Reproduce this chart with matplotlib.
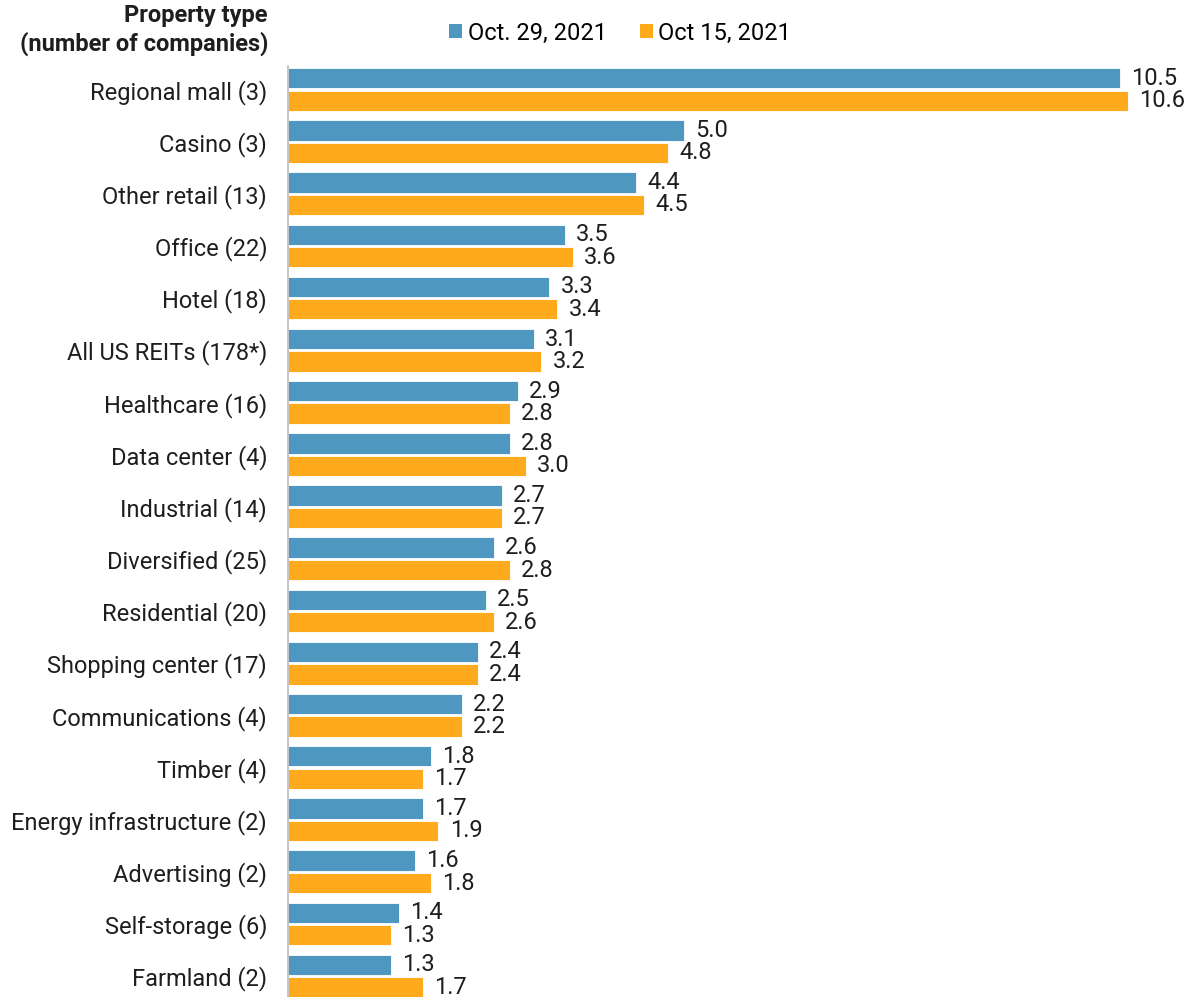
import matplotlib
matplotlib.use("Agg")
import matplotlib.pyplot as plt
from matplotlib.patches import Patch

categories = ["Regional mall (3)", "Casino (3)", "Other retail (13)", "Office (22)",
              "Hotel (18)", "All US REITs (178*)", "Healthcare (16)", "Data center (4)",
              "Industrial (14)", "Diversified (25)", "Residential (20)", "Shopping center (17)",
              "Communications (4)", "Timber (4)", "Energy infrastructure (2)",
              "Advertising (2)", "Self-storage (6)", "Farmland (2)"]
oct29 = [10.5, 5.0, 4.4, 3.5, 3.3, 3.1, 2.9, 2.8, 2.7, 2.6, 2.5, 2.4, 2.2, 1.8, 1.7, 1.6, 1.4, 1.3]
oct15 = [10.6, 4.8, 4.5, 3.6, 3.4, 3.2, 2.8, 3.0, 2.7, 2.8, 2.6, 2.4, 2.2, 1.7, 1.9, 1.8, 1.3, 1.7]
series_names = ["Oct. 29, 2021", "Oct 15, 2021"]

BLUE = "#4D97C1"
ORANGE = "#FFA91C"
TXT = "#1E1E1E"
FS = 17
plt.rcParams['font.family'] = ['Roboto', 'DejaVu Sans']

W, H = 1189, 997
fig = plt.figure(figsize=(W / 100, H / 100), dpi=100)
ax_left, ax_right, ax_top, ax_bot = 288, 1189, 66, 997
ax = fig.add_axes([ax_left / W, 1 - ax_bot / H, (ax_right - ax_left) / W, (ax_bot - ax_top) / H])

px_per_unit = 79.2
ax.set_xlim(0, (ax_right - ax_left) / px_per_unit)
ax.set_ylim(17.4, -0.45)

y = list(range(len(categories)))
h = 0.39
off = 0.215
ax.barh([v - off for v in y], oct29, height=h, color=BLUE, edgecolor="white", linewidth=0.6)
ax.barh([v + off for v in y], oct15, height=h, color=ORANGE, edgecolor="white", linewidth=0.6)

for i in y:
    ax.annotate(f"{oct29[i]:.1f}", (oct29[i], i - off), xytext=(8, 0), textcoords="offset points",
                va="center", ha="left", fontsize=FS, color=TXT)
    ax.annotate(f"{oct15[i]:.1f}", (oct15[i], i + off), xytext=(8, 0), textcoords="offset points",
                va="center", ha="left", fontsize=FS, color=TXT)

ax.set_yticks(y)
ax.set_yticklabels(categories, fontsize=FS, color=TXT)
ax.tick_params(axis="y", length=0, pad=15)
ax.set_xticks([])
for s in ["top", "right", "bottom"]:
    ax.spines[s].set_visible(False)
ax.spines["left"].set_color("#BBBBBB")
ax.spines["left"].set_linewidth(1.2)

fig.text(268 / W, 1 - 4 / H, "Property type\n(number of companies)", ha="right", va="top",
         fontsize=FS, fontweight="bold", color=TXT, linespacing=1.25)

handles = [Patch(facecolor=BLUE, edgecolor="none"), Patch(facecolor=ORANGE, edgecolor="none")]
fig.legend(handles, series_names, loc="center", bbox_to_anchor=(620 / W, 1 - 33 / H), ncol=2,
           frameon=False, fontsize=FS, handlelength=0.55, handleheight=0.55, handletextpad=0.25,
           columnspacing=1.4, borderpad=0)

fig.savefig("out.png", dpi=100)
